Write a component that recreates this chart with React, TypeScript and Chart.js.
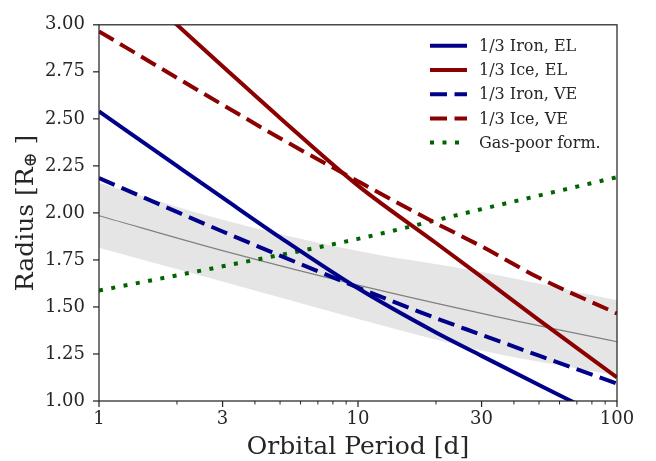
import React, { useEffect, useRef } from 'react';
import { Chart, registerables } from 'chart.js';

Chart.register(...registerables);

// ---- data ----
const ironElP = [1, 2, 3, 5, 10, 20, 30, 50, 65, 80];
const ironElR = [2.54, 2.25, 2.081, 1.87, 1.599, 1.364, 1.24, 1.085, 1.007, 0.945];
const iceElP = [1.6, 2, 3, 5, 10, 20, 30, 50, 100];
const iceElR = [3.12, 3.0, 2.78, 2.505, 2.145, 1.84, 1.66, 1.43, 1.125];
const ironVeP = [1, 2, 3, 5, 10, 20, 30, 50, 100];
const ironVeR = [2.185, 2.005, 1.901, 1.773, 1.603, 1.44, 1.352, 1.241, 1.093];
const iceVeP = [1, 2, 3, 5, 10, 20, 30, 50, 100];
const iceVeR = [2.965, 2.718, 2.575, 2.397, 2.168, 1.945, 1.822, 1.655, 1.465];
const gasPoorP = [1, 3, 10, 30, 100];
const gasPoorR = [1.587, 1.716, 1.862, 2.02, 2.19];
const fitP = [1, 3.18, 10.2, 33.8, 100];
const fitR = [1.985, 1.79, 1.613, 1.45, 1.315];
const bandP = [1, 3, 10, 30, 100];
const bandUpper = [2.16, 1.963, 1.797, 1.686, 1.535];
const bandLower = [1.815, 1.635, 1.436, 1.268, 1.135];

const yTicks = [1.0, 1.25, 1.5, 1.75, 2.0, 2.25, 2.5, 2.75, 3.0];
const xMajorTicks = [1, 3, 10, 30, 100];
const xMinorTicks = [2, 4, 5, 6, 7, 8, 9, 20, 40, 50, 60, 70, 80, 90];
const legendLabels = ['1/3 Iron, EL', '1/3 Ice, EL', '1/3 Iron, VE', '1/3 Ice, VE', 'Gas-poor form.'];

const NAVY = '#00008b';
const DARKRED = '#8b0000';
const GREEN = '#006400';
const INK = '#262626';
const FONT = '"DejaVu Serif", serif';

const pts = (xs: number[], ys: number[]) => xs.map((x, i) => ({ x, y: ys[i] }));

const decorPlugin = {
  id: 'decor',
  afterDraw(chart: any) {
    const { ctx, chartArea: a, scales } = chart;
    const xs = scales.x;
    const ys = scales.y;
    ctx.save();
    ctx.strokeStyle = INK;
    ctx.lineWidth = 1.25;
    ctx.strokeRect(a.left, a.top, a.right - a.left, a.bottom - a.top);
    const tick = (x1: number, y1: number, x2: number, y2: number, w: number) => {
      ctx.lineWidth = w;
      ctx.beginPath();
      ctx.moveTo(x1, y1);
      ctx.lineTo(x2, y2);
      ctx.stroke();
    };
    xMajorTicks.forEach((v) => {
      const px = xs.getPixelForValue(v);
      tick(px, a.bottom, px, a.bottom + 6, 1.25);
    });
    xMinorTicks.forEach((v) => {
      const px = xs.getPixelForValue(v);
      tick(px, a.bottom, px, a.bottom + 3.5, 1);
    });
    yTicks.forEach((v) => {
      const py = ys.getPixelForValue(v);
      tick(a.left, py, a.left - 6, py, 1.25);
    });

    // x title
    ctx.fillStyle = INK;
    ctx.font = `25px ${FONT}`;
    ctx.textAlign = 'center';
    ctx.textBaseline = 'alphabetic';
    ctx.fillText('Orbital Period [d]', (a.left + a.right) / 2, 454);

    // y title with subscript
    ctx.save();
    const cx = 26;
    const cy = (a.top + a.bottom) / 2;
    ctx.translate(cx, cy);
    ctx.rotate(-Math.PI / 2);
    ctx.textBaseline = 'middle';
    ctx.textAlign = 'left';
    const p1 = 'Radius [R';
    const p2 = '\u2295';
    const p3 = ' ]';
    ctx.font = `25px ${FONT}`;
    const w1 = ctx.measureText(p1).width;
    const w3 = ctx.measureText(p3).width;
    ctx.font = `18px ${FONT}`;
    const w2 = ctx.measureText(p2).width;
    const total = w1 + w2 + w3;
    let x0 = -total / 2;
    ctx.font = `25px ${FONT}`;
    ctx.fillText(p1, x0, 0);
    x0 += w1;
    ctx.font = `18px ${FONT}`;
    ctx.fillText(p2, x0, 5);
    x0 += w2;
    ctx.font = `25px ${FONT}`;
    ctx.fillText(p3, x0, 0);
    ctx.restore();

    // legend
    const datasets = chart.data.datasets;
    legendLabels.forEach((lab, i) => {
      const ds = datasets.find((d: any) => d.label === lab);
      if (!ds) return;
      const y = a.top + 21 + i * 24.2;
      const lx1 = a.right - 187;
      const lx2 = a.right - 150;
      ctx.strokeStyle = ds.borderColor;
      ctx.lineWidth = ds.borderWidth;
      ctx.setLineDash(ds.borderDash || []);
      ctx.lineCap = 'butt';
      ctx.beginPath();
      ctx.moveTo(lx1, y);
      ctx.lineTo(lx2, y);
      ctx.stroke();
      ctx.setLineDash([]);
      ctx.fillStyle = INK;
      ctx.font = `16px ${FONT}`;
      ctx.textAlign = 'left';
      ctx.textBaseline = 'middle';
      ctx.fillText(lab, a.right - 138, y + 1);
    });
    ctx.restore();
  },
};

export default function App() {
  const ref = useRef<HTMLCanvasElement | null>(null);
  useEffect(() => {
    document.body.style.margin = '0';
    const canvas = ref.current;
    if (!canvas) return;
    const lineBase = {
      pointRadius: 0,
      fill: false,
      cubicInterpolationMode: 'monotone' as const,
      borderCapStyle: 'butt' as const,
      clip: 0,
    };
    const chart = new Chart(canvas, {
      type: 'line',
      data: {
        datasets: [
          { ...lineBase, label: '1/3 Iron, EL', data: pts(ironElP, ironElR), borderColor: NAVY, borderWidth: 4, order: 1 },
          { ...lineBase, label: '1/3 Ice, EL', data: pts(iceElP, iceElR), borderColor: DARKRED, borderWidth: 4, order: 2 },
          { ...lineBase, label: '1/3 Iron, VE', data: pts(ironVeP, ironVeR), borderColor: NAVY, borderWidth: 4, borderDash: [17, 7.5], order: 3 },
          { ...lineBase, label: '1/3 Ice, VE', data: pts(iceVeP, iceVeR), borderColor: DARKRED, borderWidth: 4, borderDash: [17, 7.5], order: 4 },
          { ...lineBase, label: 'Gas-poor form.', data: pts(gasPoorP, gasPoorR), borderColor: GREEN, borderWidth: 4, borderDash: [4, 8.5], order: 5 },
          { ...lineBase, label: 'fit', data: pts(fitP, fitR), borderColor: '#808080', borderWidth: 1.2, order: 8 },
          { ...lineBase, label: 'bandUpper', data: pts(bandP, bandUpper), borderWidth: 0, borderColor: 'rgba(0,0,0,0)', backgroundColor: '#e5e5e5', fill: '+1', order: 9 },
          { ...lineBase, label: 'bandLower', data: pts(bandP, bandLower), borderWidth: 0, borderColor: 'rgba(0,0,0,0)', order: 10 },
        ],
      },
      options: {
        animation: false,
        responsive: false,
        events: [],
        layout: { padding: { top: 14, right: 39, left: 0, bottom: 0 } },
        plugins: { legend: { display: false }, tooltip: { enabled: false }, title: { display: false } },
        scales: {
          x: {
            type: 'logarithmic',
            min: 1,
            max: 100,
            afterFit: (s: any) => { s.height = 60; },
            afterBuildTicks: (s: any) => {
              s.ticks = [...xMajorTicks, ...xMinorTicks].sort((p, q) => p - q).map((v) => ({ value: v }));
            },
            grid: { display: false, drawTicks: false },
            border: { display: false },
            ticks: {
              autoSkip: false,
              maxRotation: 0,
              padding: 8,
              color: INK,
              font: { family: FONT, size: 18 },
              callback: (v: any) => (xMajorTicks.includes(Number(v)) ? String(v) : ''),
            },
          },
          y: {
            type: 'linear',
            min: 1,
            max: 3,
            afterFit: (s: any) => { s.width = 99; },
            afterBuildTicks: (s: any) => { s.ticks = yTicks.map((v) => ({ value: v })); },
            grid: { display: false, drawTicks: false },
            border: { display: false },
            ticks: {
              padding: 14,
              color: INK,
              font: { family: FONT, size: 18 },
              callback: (v: any) => Number(v).toFixed(2),
            },
          },
        },
      },
      plugins: [decorPlugin],
    } as any);
    return () => chart.destroy();
  }, []);
  return (
    <div style={{ width: 656, height: 461 }}>
      <canvas ref={ref} width={656} height={461} style={{ width: 656, height: 461, display: 'block' }} />
    </div>
  );
}
